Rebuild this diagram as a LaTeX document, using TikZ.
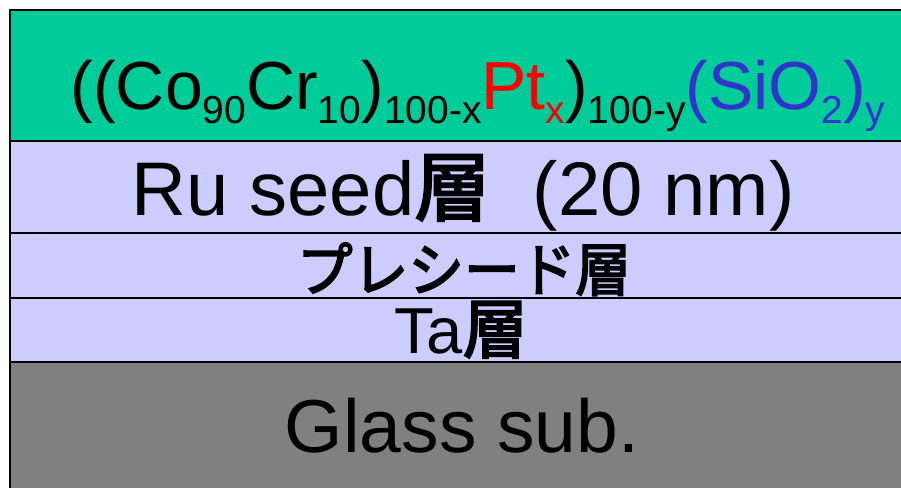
\documentclass[tikz,border=0pt]{standalone}
\usepackage{fontspec}
\setmainfont{Liberation Sans}
\newfontfamily\jp{Noto Sans CJK JP}[FakeBold=3]
\definecolor{topgreen}{RGB}{0,204,153}
\definecolor{lav}{RGB}{204,204,255}
\definecolor{glassgray}{RGB}{128,128,128}
\definecolor{ptred}{RGB}{255,0,0}
\definecolor{siblue}{RGB}{51,51,204}
\newcommand\fsz[1]{\fontsize{#1}{#1}\selectfont}
\newcommand\lsub[1]{\raisebox{-14pt}{\fsz{39}#1}}
\begin{document}
\begin{tikzpicture}[x=1pt,y=-1pt,
  layer/.style={draw=black, line width=2pt},
  lbl/.style={anchor=base, inner sep=0pt, text=black}]
\useasboundingbox (0,0) rectangle (901,487);
\clip (0,0) rectangle (901,487);
\fill[white] (0,0) rectangle (901,487);
\draw[layer, fill=topgreen] (10,10) rectangle (915,141);
\draw[layer, fill=lav] (10,141) rectangle (915,233);
\draw[layer, fill=lav] (10,233) rectangle (915,298);
\draw[layer, fill=lav] (10,298) rectangle (915,362);
\draw[layer, fill=glassgray] (10,362) rectangle (915,495);
\node[lbl] (top) at (478,109) {\fsz{68}((Co\lsub{90}Cr\lsub{10})\lsub{100-x}\textcolor{ptred}{Pt\lsub{x}})\lsub{100-y}\textcolor{siblue}{(SiO\lsub{2})\lsub{y}}};
\node[lbl] (ru) at (463,215) {\fsz{76}Ru seed{\jp 層}\ \ (20 nm)};
\node[lbl] (pre) at (464,291) {\scalebox{0.96}[1]{\fsz{58}\jp プレシード層}};
\node[lbl] (ta) at (461,353) {\fsz{65}Ta{\jp 層}};
\node[lbl] (glass) at (462,452) {\fsz{75}Glass sub.};
\end{tikzpicture}
\end{document}
